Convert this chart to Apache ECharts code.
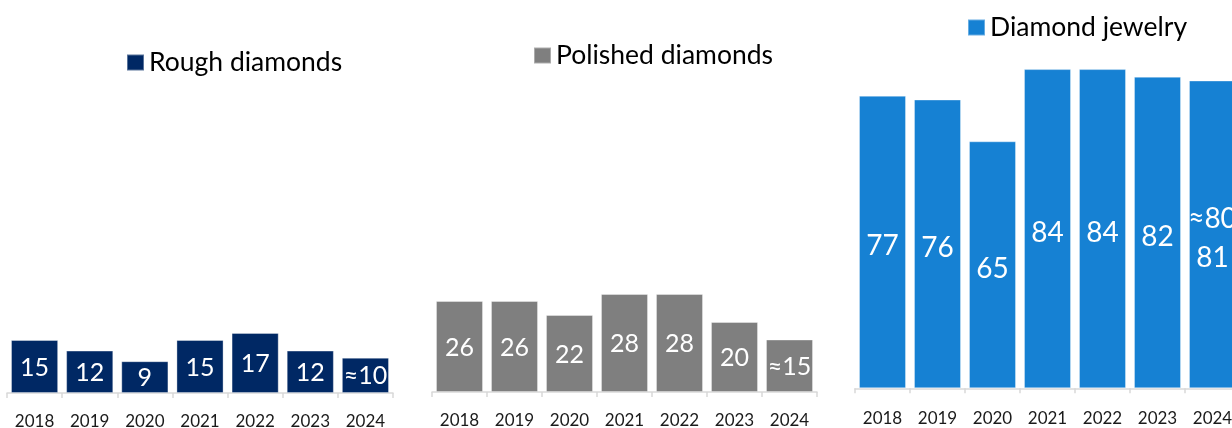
<!DOCTYPE html>
<html>
<head>
<meta charset="utf-8">
<script src="https://cdn.jsdelivr.net/npm/echarts@6/dist/echarts.min.js"></script>
<style>
html,body{margin:0;padding:0;background:#fff;}
#chart{width:1232px;height:428px;}
</style>
</head>
<body>
<div id="chart"></div>
<script>
const years = ['2018','2019','2020','2021','2022','2023','2024'];
const roughValues = [15, 12, 9, 15, 17, 12, 10];
const roughLabels = ['15','12','9','15','17','12','≈10'];
const polishedValues = [26, 26, 22, 28, 28, 20, 15];
const polishedLabels = ['26','26','22','28','28','20','≈15'];
const jewelryValues = [77, 76, 65, 84, 84, 82, 81];
const jewelryLabels = ['77','76','65','84','84','82','≈80\n81'];
const seriesNames = ['Rough diamonds','Polished diamonds','Diamond jewelry'];

const FONT = 'Lato';
const colors = ['#002864', '#7f7f7f', '#1681d3'];

const grids = [
  {left: 7, width: 386, top: 287, height: 106, containLabel: false, outerBoundsMode: 'none'},
  {left: 432, width: 385, top: 287, height: 105, containLabel: false, outerBoundsMode: 'none'},
  {left: 855, width: 385, top: 8.3, height: 380, containLabel: false, outerBoundsMode: 'none'}
];
const yMax = [30, 30, 100];
const axisOffset = [3, 3, 2];
const labelMargin = [17, 17, 20];
const labelSize = [25, 25, 28];
const labelShift = [1, 1, 4];
const legendPos = [
  {left: 126, top: 49},
  {left: 533, top: 42},
  {left: 967, top: 14}
];
const valuesList = [roughValues, polishedValues, jewelryValues];
const labelsList = [roughLabels, polishedLabels, jewelryLabels];

const option = {
  animation: false,
  grid: grids,
  legend: seriesNames.map((n, i) => ({
    data: [n],
    left: legendPos[i].left,
    top: legendPos[i].top,
    padding: 0,
    icon: 'rect',
    itemWidth: 17,
    itemHeight: 16,
    itemGap: 8,
    selectedMode: false,
    textStyle: {fontFamily: FONT, fontSize: 26.5, color: '#000', lineHeight: 26, padding: [0,0,0,0]}
  })),
  xAxis: grids.map((g, i) => ({
    type: 'category',
    gridIndex: i,
    data: years,
    offset: axisOffset[i],
    axisLine: {show: true, lineStyle: {color: '#d9d9d9', width: 1.5}},
    axisTick: {show: true, length: 5, lineStyle: {color: '#d9d9d9', width: 1.5}},
    axisLabel: {fontFamily: FONT, fontSize: 17, color: '#1a1a1a', margin: labelMargin[i]}
  })),
  yAxis: grids.map((g, i) => ({
    type: 'value',
    gridIndex: i,
    min: 0,
    max: yMax[i],
    show: false,
    splitLine: {show: false}
  })),
  series: seriesNames.map((n, i) => ({
    name: n,
    type: 'bar',
    xAxisIndex: i,
    yAxisIndex: i,
    data: valuesList[i],
    barCategoryGap: '14.5%',
    itemStyle: {color: colors[i], borderColor: 'rgba(255,255,255,0.35)', borderWidth: 1},
    label: {
      show: true,
      position: 'inside',
      offset: [0, labelShift[i]],
      fontFamily: FONT,
      fontSize: labelSize[i],
      lineHeight: 39,
      color: '#fff',
      formatter: p => labelsList[i][p.dataIndex]
    }
  }))
};

const chart = echarts.init(document.getElementById('chart'), null, {renderer: 'canvas'});
chart.setOption(option);
</script>
</body>
</html>
